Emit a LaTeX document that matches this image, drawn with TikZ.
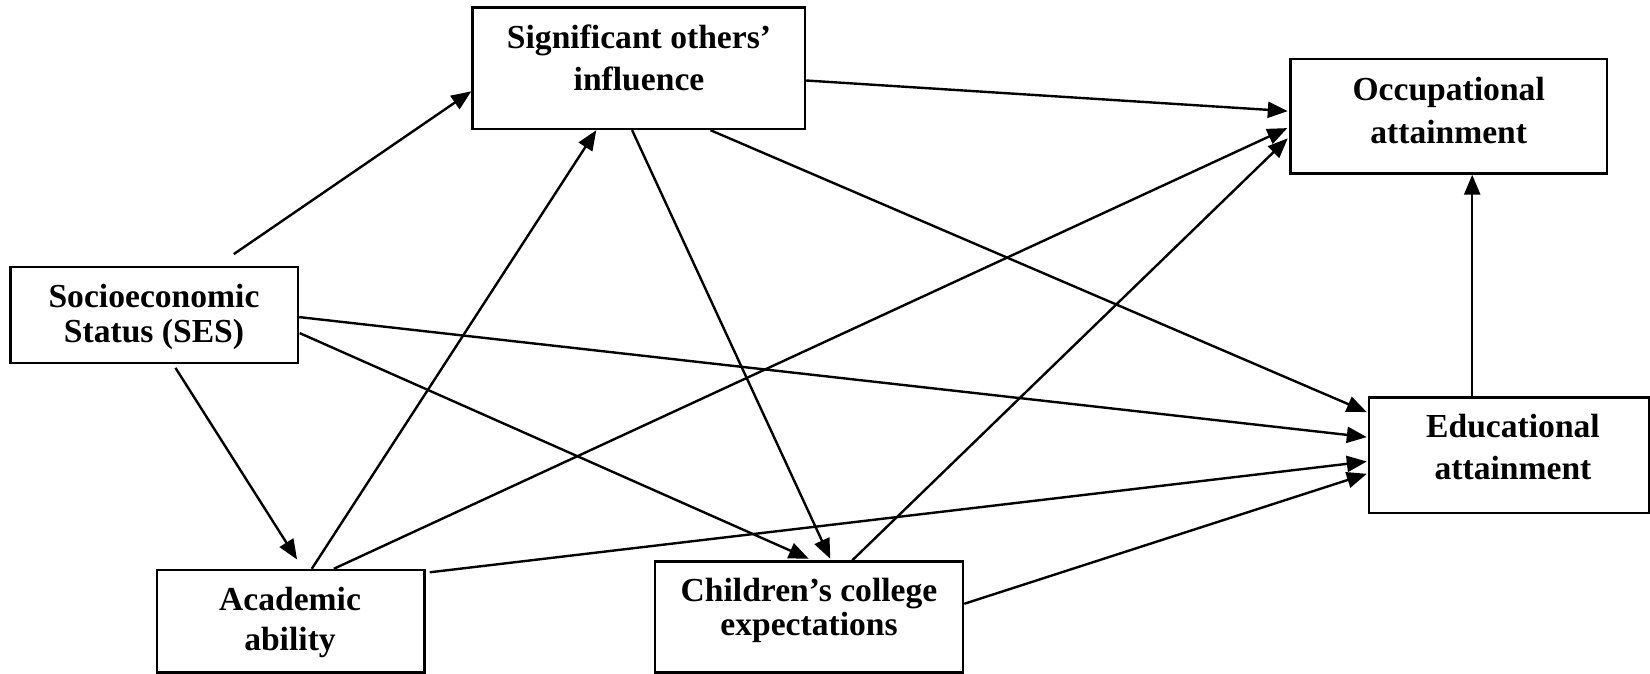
\documentclass[tikz,border=0pt]{standalone}
\usepackage{fontspec}
\setmainfont{Liberation Serif}
\usetikzlibrary{arrows.meta,calc}
\tikzset{
  box/.style={draw=black, line width=1.2pt, rectangle, inner sep=0pt},
  lbl/.style={inner sep=0pt, align=center, anchor=base},
  arr/.style={line width=1.2pt, -{Triangle[length=10pt,width=8pt]}}
}
\newcommand{\lblfont}[1]{\bfseries\fontsize{16.8}{#1}\selectfont}
\begin{document}
\begin{tikzpicture}[x=0.5pt,y=-0.5pt]
\useasboundingbox (0,0) rectangle (1650,674);
% boxes
\node[box, minimum width=166.25pt, minimum height=60.75pt] (sig) at (638.75,68.25) {};
\node[box, minimum width=158.25pt, minimum height=57.25pt] (occ) at (1448.75,116.25) {};
\node[box, minimum width=140pt, minimum height=57.75pt] (edu) at (1509,455.25) {};
\node[box, minimum width=143.75pt, minimum height=48pt] (ses) at (154.25,314.7) {};
\node[box, minimum width=133.75pt, minimum height=51.25pt] (acad) at (290.75,621.25) {};
\node[box, minimum width=154pt, minimum height=55.5pt] (chil) at (809,617) {};
% labels (anchored at the baseline of the last line)
\node[lbl, font=\lblfont{21}] (sigt) at (639,90.3) {Significant others’\\influence};
\node[lbl, font=\lblfont{21.5}] (occt) at (1448.7,143.2) {Occupational\\attainment};
\node[lbl, font=\lblfont{21}] (edut) at (1513,479.5) {Educational\\attainment};
\node[lbl, font=\lblfont{17.25}] (sest) at (154,342) {Socioeconomic\\Status (SES)};
\node[lbl, font=\lblfont{20}] (acadt) at (290,650) {Academic\\ability};
\node[lbl, font=\lblfont{17}] (chilt) at (809,635.5) {Children’s college\\expectations};
% connectors
\draw[arr] ($(ses.north west)+(224.5,-11.4)$) -- ($(sig.north west)+(0,85)$);
\draw[arr] ($(ses.south west)+(166.2,4)$) -- ($(acad.north west)+(141.3,-9.3)$);
\draw[arr] ($(acad.north west)+(156,0)$) -- ($(sig.south west)+(125,0)$);
\draw[arr] ($(acad.north west)+(178,0)$) -- ($(occ.north west)+(-2,70.3)$);
\draw[arr] ($(acad.north east)+(4,3.5)$) -- ($(edu.north west)+(-1,65.2)$);
\draw[arr] ($(ses.north east)+(0,51.6)$) -- ($(edu.north west)+(-1,40.8)$);
\draw[arr] ($(ses.north east)+(0.5,67.6)$) -- ($(chil.north west)+(155,-1.5)$);
\draw[arr] ($(sig.south west)+(160.8,0)$) -- ($(chil.north west)+(176.5,-1.5)$);
\draw[arr] ($(sig.north east)+(0,74.2)$) -- ($(occ.north west)+(-1.5,53.3)$);
\draw[arr] ($(sig.south west)+(239.2,0)$) -- ($(edu.north west)+(-1,15.8)$);
\draw[arr] ($(chil.north west)+(198.5,0)$) -- ($(occ.north west)+(-1.5,80.5)$);
\draw[arr] ($(chil.north east)+(0,43.5)$) -- ($(edu.north west)+(-1,77.5)$);
\draw[arr] ($(edu.north west)+(104.4,0)$) -- ($(occ.south west)+(182.9,0)$);
\end{tikzpicture}
\end{document}
